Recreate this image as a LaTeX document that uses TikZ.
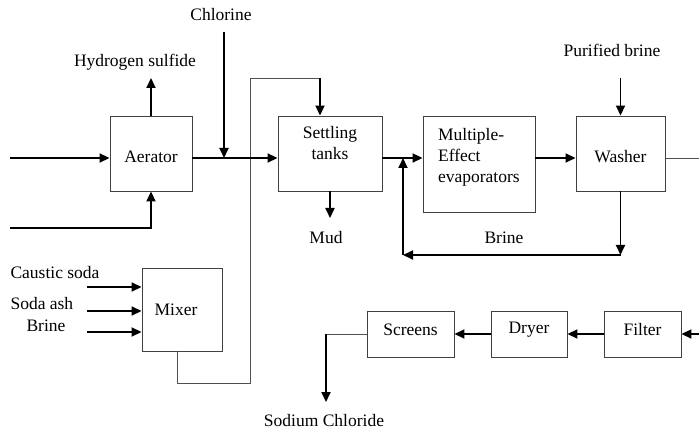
\documentclass[tikz,border=0pt]{standalone}
\usepackage{fontspec}
\setmainfont{Liberation Serif}
\usetikzlibrary{arrows.meta}
\definecolor{boxline}{HTML}{404040}
\definecolor{ductline}{HTML}{505050}

\begin{document}
\begin{tikzpicture}[
  x=1pt, y=-1pt,
  font=\fontsize{17.5}{21}\selectfont,
  procbox/.style={draw=boxline, line width=0.9pt, fill=white, inner sep=0pt},
  stream/.style={line width=1.8pt, -{Triangle[length=10pt,width=9pt]}},
  duct/.style={ductline, line width=0.9pt},
]
\useasboundingbox (0,0) rectangle (699,430);

% ---------- upper line ----------
\coordinate (flowy) at (0,158);
\node[procbox, minimum width=82pt, minimum height=75pt] (aerator) at (151,153.5) {};
\node (aeratortxt) at ([yshift=-3pt]aerator.center) {Aerator};
\node[procbox, minimum width=104pt, minimum height=75pt] (settle) at (330,153.5) {};
\node[align=center] (settletxt) at ([yshift=10pt]settle.center) {Settling\\tanks};
\node[procbox, minimum width=112pt, minimum height=96pt] (evap) at (479,164) {};
\node[align=left, anchor=west] (evaptxt) at ([xshift=12pt,yshift=7pt]evap.west) {Multiple-\\Effect\\evaporators};
\node[procbox, minimum width=89pt, minimum height=75pt] (washer) at (620.5,153.5) {};
\node (washertxt) at ([yshift=-3pt]washer.center) {Washer};

\node (h2s) at (135,62) {Hydrogen sulfide};
\node (chlorine) at (221,15) {Chlorine};
\node (purebrine) at (612,50) {Purified brine};
\node (mud) at (326,238) {Mud};
\node (brine) at (504,238) {Brine};

% free ends
\coordinate (feedA) at (10,158);
\coordinate (feedB) at (10,228);
\coordinate (h2send) at (151,78);
\coordinate (cltop) at (224,32);
\coordinate (mudend) at (330,218);
\coordinate (pbtop) at (620.5,78);
\coordinate (wout) at (699,158);
\coordinate (recR) at (620.5,255);
\coordinate (recL) at (403,255);

% ---------- mixer ----------
\node[procbox, minimum width=80pt, minimum height=83pt] (mixer) at (182,309.5) {};
\node (mixertxt) at ([xshift=-6pt]mixer.center) {Mixer};
\node[anchor=west] (caustic) at (7,273) {Caustic soda};
\node[anchor=west] (sodaash) at (7,304) {Soda ash};
\node (brinein) at (46,326) {Brine};

% mixer return to settling tanks
\coordinate (retA) at (177,383);
\coordinate (retB) at (250,383);
\coordinate (retC) at (250,78);
\coordinate (retD) at (320,78);
\draw[duct] (mixer.south -| retA) -- (retA) -- (retB) -- (retC) -- (retD);
\draw[stream] (retD) -- (retD |- settle.north);

\foreach \y in {287,311,332}
  \draw[stream] (87,\y) -- (mixer.west |- 0,\y);

% ---------- upper connectors ----------
\draw[stream] (feedA) -- (aerator.west |- flowy);
\draw[stream] (feedB) -| (aerator.south);
\draw[stream] (aerator.north) -- (h2send);
\draw[stream] (cltop) -- (cltop |- flowy);
\draw[stream] (aerator.east |- flowy) -- (settle.west |- flowy);
\draw[stream] (settle.south) -- (mudend);
\draw[stream] (settle.east |- flowy) -- (evap.west |- flowy);
\draw[stream] (evap.east |- flowy) -- (washer.west |- flowy);
\draw[stream] (pbtop) -- (washer.north);
\draw[duct] (washer.east |- flowy) -- (wout);

% brine recycle
\draw[stream] (washer.south) -- (recR);
\draw[stream] (recR) -- (recL);
\draw[stream] (recL) -- (recL |- flowy);

% ---------- lower line ----------
\node[procbox, minimum width=77pt, minimum height=46pt] (filter) at (642.5,334) {};
\node (filtertxt) at ([yshift=4pt]filter.center) {Filter};
\node[procbox, minimum width=76pt, minimum height=46pt] (dryer) at (529,334) {};
\node (dryertxt) at ([yshift=4pt]dryer.center) {Dryer};
\node[procbox, minimum width=87pt, minimum height=46pt] (screens) at (410.5,334) {};
\node (screenstxt) at ([yshift=4pt]screens.center) {Screens};
\node (nacl) at (324,421) {Sodium Chloride};

\coordinate (filterin) at (699,334);
\coordinate (naclturn) at (326,334);
\coordinate (naclend) at (326,402);
\draw[stream] (filterin) -- (filter.east);
\draw[stream] (filter.west) -- (dryer.east);
\draw[stream] (dryer.west) -- (screens.east);
\draw[duct] (screens.west) -- (naclturn);
\draw[stream] (naclturn) -- (naclend);

\end{tikzpicture}
\end{document}
